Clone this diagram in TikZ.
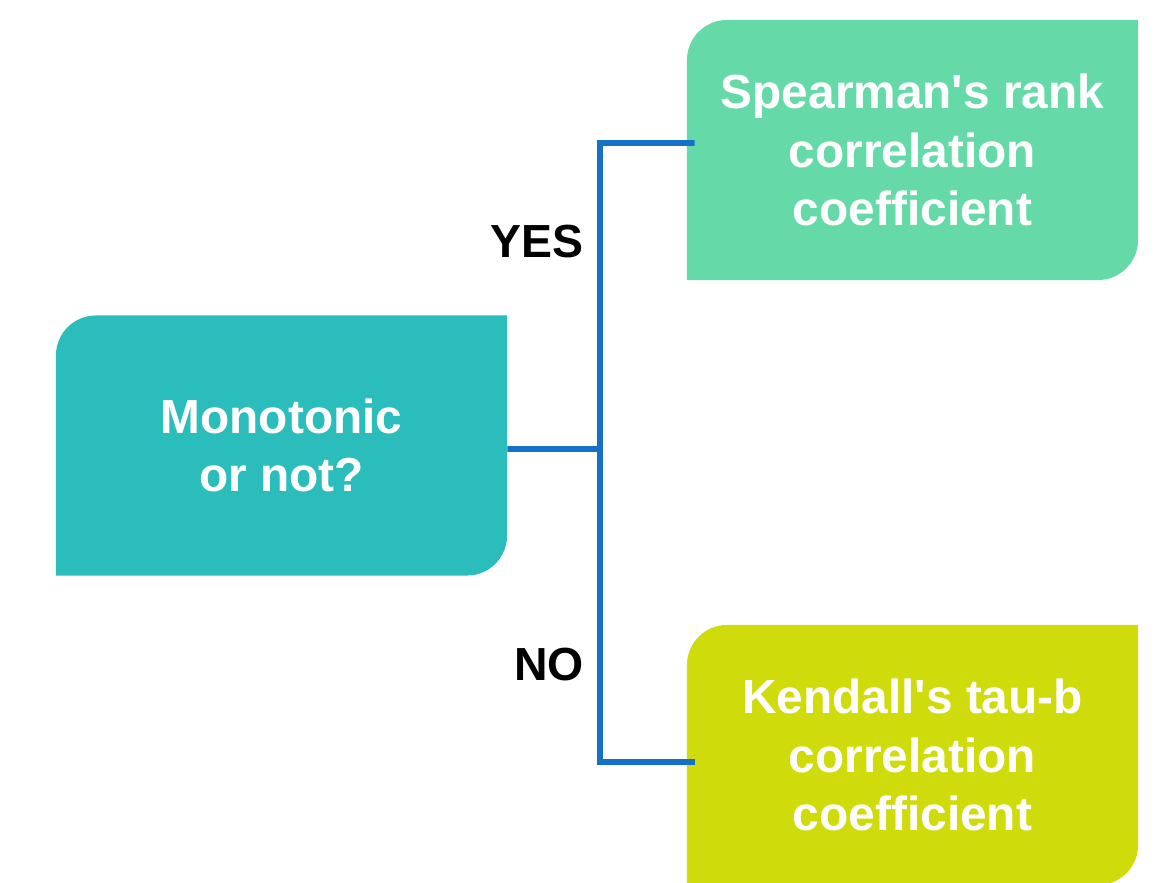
\documentclass[tikz,border=0pt]{standalone}
\usepackage{fontspec}
\setmainfont{Liberation Sans}
\definecolor{monoteal}{HTML}{2ABDBB}
\definecolor{speargreen}{HTML}{66D9A9}
\definecolor{kendlime}{HTML}{CFDB0A}
\definecolor{linkblue}{HTML}{1570C8}
\begin{document}
\begin{tikzpicture}[x=0.025cm, y=-0.025cm,
	box/.style={text=white, font=\bfseries\fontsize{34}{41.6}\selectfont, align=center,
		inner sep=0pt, minimum width=11.275cm, minimum height=6.5cm,
		path picture={
			\fill[#1] (path picture bounding box.south west)
				-- ([yshift=-1cm]path picture bounding box.north west)
				arc[start angle=180, end angle=90, radius=1cm]
				-- (path picture bounding box.north east)
				-- ([yshift=1cm]path picture bounding box.south east)
				arc[start angle=0, end angle=-90, radius=1cm] -- cycle;}},
	link/.style={draw=linkblue, line width=4.25pt},
	answer/.style={font=\bfseries\fontsize{33}{40}\selectfont, anchor=east, inner sep=0pt}]
\useasboundingbox (0,0) rectangle (1163,882);
\node[box=monoteal] (mono) at (281.5,445.5) {Monotonic\\or not?};
\node[box=speargreen] (spear) at (912.5,150) {Spearman\textquotesingle s rank\\correlation\\coefficient};
\node[box=kendlime] (kend) at (912.5,755) {Kendall\textquotesingle s tau-b\\correlation\\coefficient};
% branch
\coordinate (split) at (600,449);
\draw[link] ([yshift=-0.0875cm]mono.east) -- (split) |- ([yshift=0.175cm,xshift=0.2cm]spear.west);
\draw[link] (split) |- ([yshift=-0.175cm,xshift=0.2cm]kend.west);
\node[answer] (yes) at (584,242) {YES};
\node[answer] (no) at (584,665) {NO};
\end{tikzpicture}
\end{document}
